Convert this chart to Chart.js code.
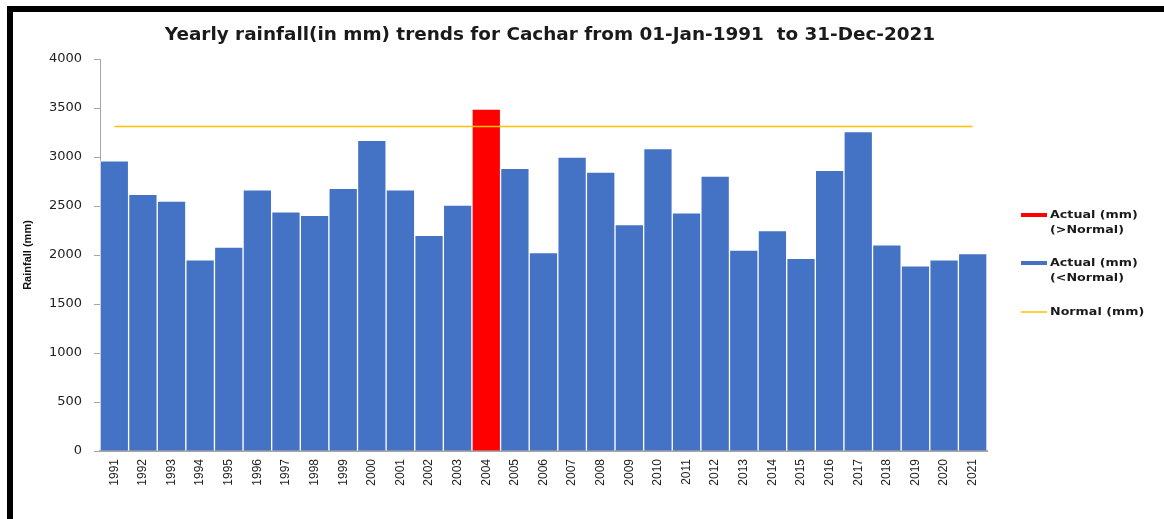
<!DOCTYPE html>
<html>
<head>
<meta charset="utf-8">
<title>Yearly rainfall - Cachar</title>
<script src="https://cdn.jsdelivr.net/npm/chart.js@4.4.1/dist/chart.umd.min.js"></script>
<style>
  html, body { margin: 0; padding: 0; background: #fff; }
  #wrap { position: relative; width: 1164px; height: 519px; }
  #frame {
    position: absolute; left: 7px; top: 6px; right: 0; bottom: 0;
    border-top: 6px solid #000; border-left: 6px solid #000;
    pointer-events: none;
  }
</style>
</head>
<body>
<div id="wrap">
  <canvas id="rainChart" width="1164" height="519"></canvas>
  <div id="frame"></div>
</div>
<script>
const chartTitle = 'Yearly rainfall(in mm) trends for Cachar from 01-Jan-1991  to 31-Dec-2021';

const years = [
  '1991', '1992', '1993', '1994', '1995', '1996', '1997', '1998', '1999', '2000',
  '2001', '2002', '2003', '2004', '2005', '2006', '2007', '2008', '2009', '2010',
  '2011', '2012', '2013', '2014', '2015', '2016', '2017', '2018', '2019', '2020', '2021'
];

// actual yearly rainfall (mm)
const rainfall = [
  2960, 2620, 2550, 1950, 2080, 2665, 2440, 2405, 2680, 3170,
  2665, 2200, 2510, 3490, 2885, 2025, 3000, 2845, 2310, 3085,
  2430, 2805, 2050, 2250, 1965, 2865, 3260, 2105, 1890, 1950, 2015
];

const normalRainfall = 3310;

const legendLabels = [
  ['Actual (mm)', '(>Normal)'],
  ['Actual (mm)', '(<Normal)'],
  ['Normal (mm)']
];

const aboveNormal = rainfall.map(v => (v > normalRainfall ? v : null));
const belowNormal = rainfall.map(v => (v > normalRainfall ? null : v));
const normalLine = years.map(() => normalRainfall);

// title and right-hand legend, drawn straight on the canvas
const sidePlugin = {
  id: 'sideLegend',
  afterDraw(chart) {
    const ctx = chart.ctx;
    ctx.save();
    ctx.fillStyle = '#1a1a1a';
    ctx.font = 'bold 18.4px "DejaVu Sans"';
    ctx.textAlign = 'center';
    ctx.textBaseline = 'middle';
    ctx.fillText(chartTitle, 550, 35);

    const rows = [215, 263, 312];
    const sampleWidths = [4, 4, 1.5];
    ctx.textAlign = 'left';
    ctx.font = 'bold 10px "DejaVu Sans"';
    chart.data.datasets.forEach((ds, i) => {
      const y = rows[i];
      ctx.strokeStyle = ds.borderColor === '#ffffff' ? ds.backgroundColor : ds.borderColor;
      ctx.lineWidth = sampleWidths[i];
      ctx.beginPath();
      ctx.moveTo(1021, y);
      ctx.lineTo(1047, y);
      ctx.stroke();
      legendLabels[i].forEach((line, j) => {
        ctx.save();
        ctx.translate(1050, y + j * 15.5);
        ctx.scale(1.27, 1);
        ctx.fillStyle = '#1a1a1a';
        ctx.fillText(line, 0, 0);
        ctx.restore();
      });
    });
    ctx.restore();
  }
};

const ctx = document.getElementById('rainChart').getContext('2d');
const rainChart = new Chart(ctx, {
  data: {
    labels: years,
    datasets: [
      {
        type: 'bar',
        label: legendLabels[0].join(' '),
        data: aboveNormal,
        backgroundColor: '#ff0000',
        borderColor: '#ffffff',
        borderWidth: { top: 1, left: 1, right: 1, bottom: 0 },
        barPercentage: 1,
        categoryPercentage: 1,
        order: 1
      },
      {
        type: 'bar',
        label: legendLabels[1].join(' '),
        data: belowNormal,
        backgroundColor: '#4472c4',
        borderColor: '#ffffff',
        borderWidth: { top: 1, left: 1, right: 1, bottom: 0 },
        barPercentage: 1,
        categoryPercentage: 1,
        order: 1
      },
      {
        type: 'line',
        label: legendLabels[2].join(' '),
        data: normalLine,
        borderColor: '#ffc000',
        borderWidth: 1.5,
        pointRadius: 0,
        fill: false,
        order: 0
      }
    ]
  },
  options: {
    responsive: false,
    animation: false,
    layout: {
      padding: { top: 59, left: 0, right: 177, bottom: 0 }
    },
    plugins: {
      legend: { display: false },
      title: { display: false },
      tooltip: { enabled: false }
    },
    scales: {
      x: {
        stacked: true,
        grid: { display: false, drawTicks: false },
        border: { color: '#a6a6a6', width: 2 },
        ticks: {
          autoSkip: false,
          minRotation: 90,
          maxRotation: 90,
          padding: 8,
          color: '#222',
          font: { family: '"Liberation Sans", Arial, sans-serif', size: 12 }
        },
        afterFit(scale) { scale.height = 68; }
      },
      y: {
        min: 0,
        max: 4000,
        grid: { drawOnChartArea: false, tickLength: 6, color: '#a6a6a6' },
        border: { color: '#a6a6a6', width: 1 },
        ticks: {
          stepSize: 500,
          padding: 12,
          color: '#222',
          font: { family: '"DejaVu Sans", sans-serif', size: 13 },
          callback: value => String(value)
        },
        title: {
          display: true,
          text: 'Rainfall (mm)',
          color: '#111',
          padding: { top: 21, bottom: 0 },
          font: { family: '"Liberation Sans", Arial, sans-serif', size: 11, weight: 'bold' }
        },
        afterFit(scale) { scale.width = 100; }
      }
    }
  },
  plugins: [sidePlugin]
});
</script>
</body>
</html>
